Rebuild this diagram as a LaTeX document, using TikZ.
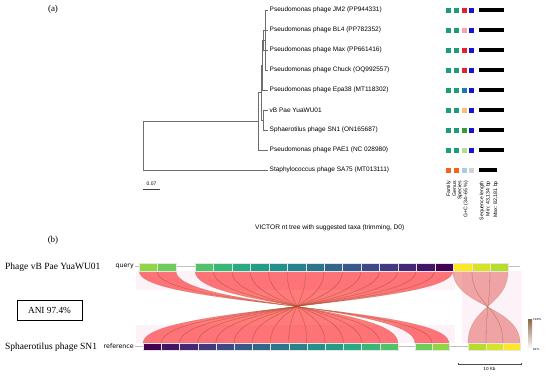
\documentclass[tikz,border=0pt]{standalone}
\usepackage{fontspec}
\setmainfont{Liberation Serif}
\setsansfont{Liberation Sans}
\newfontfamily\dvsans{DejaVu Sans}
\usepackage{xcolor}
\usepackage{tikz}
\usetikzlibrary{arrows.meta,calc}

%% viridis steps along the reference genome
\definecolor{vir0}{HTML}{440154}
\definecolor{vir1}{HTML}{461466}
\definecolor{vir2}{HTML}{472777}
\definecolor{vir3}{HTML}{433981}
\definecolor{vir4}{HTML}{3E4A88}
\definecolor{vir5}{HTML}{38598C}
\definecolor{vir6}{HTML}{31678D}
\definecolor{vir7}{HTML}{2B758E}
\definecolor{vir8}{HTML}{26838D}
\definecolor{vir9}{HTML}{21918C}
\definecolor{vir10}{HTML}{229E88}
\definecolor{vir11}{HTML}{26AB82}
\definecolor{vir12}{HTML}{39B777}
\definecolor{vir13}{HTML}{50C369}
\definecolor{vir14}{HTML}{6ECD58}
\definecolor{vir15}{HTML}{90D643}
\definecolor{vir16}{HTML}{B6DD2B}
\definecolor{vir17}{HTML}{D9E326}
\definecolor{vir18}{HTML}{FDE725}

%% taxa colours
\definecolor{famteal}{HTML}{1B9E77}
\definecolor{famorange}{HTML}{F0641E}
\definecolor{gcblue}{HTML}{1414D2}
\definecolor{gcgray}{HTML}{D2D2D2}
\definecolor{spred}{HTML}{E8202A}
\definecolor{sppink}{HTML}{F7A3AB}
\definecolor{spsteel}{HTML}{1F78B4}
\definecolor{sporange}{HTML}{FDBF6F}
\definecolor{spgreen}{HTML}{33A02C}
\definecolor{splgreen}{HTML}{B2DF8A}
\definecolor{splblue}{HTML}{A6CEE3}
\definecolor{treegray}{HTML}{6E6E6E}
\definecolor{identbrown}{HTML}{8C6A48}

\tikzset{
  branch/.style={draw=treegray, line width=0.6pt},
  tiplabel/.style={anchor=west, inner sep=1.5pt, font=\sffamily\fontsize{6.5}{7}\selectfont},
  colhead/.style={anchor=east, rotate=90, inner sep=0pt, font=\sffamily\fontsize{5.2}{6}\selectfont},
  panel/.style={font=\fontsize{9}{10}\selectfont},
  genome/.style={anchor=west, inner sep=0pt, font=\fontsize{9.5}{11}\selectfont},
  tag/.style={anchor=east, inner sep=1pt, font=\dvsans\fontsize{6.3}{7}\selectfont},
  ribbon/.style={fill=red, fill opacity=0.52, draw=brown!70!black, draw opacity=0.4, line width=0.3pt},
  ribbonB/.style={fill={rgb,255:red,225;green,85;blue,80}, fill opacity=0.5, draw=brown!70!black, draw opacity=0.35, line width=0.3pt},
  haze/.style={fill=magenta!5},
  seg/.style={draw=white!80!gray, line width=0.1pt},
}

\begin{document}
\begin{tikzpicture}[x=1pt, y=-1pt]
\useasboundingbox (0,0) rectangle (550,376);

%% ---------------- (a) tree ----------------
\node[panel] (lblA) at (53,9) {(a)};

\foreach \r/\y/\txt in {1/10/{Pseudomonas phage JM2 (PP944331)},
                        2/30/{Pseudomonas phage BL4 (PP782352)},
                        3/50/{Pseudomonas phage Max (PP661416)},
                        4/70/{Pseudomonas phage Chuck (OQ992557)},
                        5/90/{Pseudomonas phage Epa38 (MT118302)},
                        6/110/{vB Pae YuaWU01},
                        7/130/{Sphaerotilus phage SN1 (ON165687)},
                        8/150/{Pseudomonas phage PAE1 (NC 028980)},
                        9/170/{Staphylococcus phage SA75 (MT013111)}}
  \node[tiplabel] (tip\r) at (268,\y) {\txt};

%% internal nodes (x = depth)
\coordinate (n6) at (265.0, 40);
\coordinate (n5) at (263.3, 40);
\coordinate (n4) at (262.5, 65);
\coordinate (n3) at (263.3, 120);
\coordinate (n2) at (261.7, 92.5);
\coordinate (n1) at (258.3, 121.25);
\coordinate (root) at (143, 145.6);

\draw[branch] (root) |- (n1);   \draw[branch] (root) |- (tip9.west);
\draw[branch] (n1) |- (n2);     \draw[branch] (n1) |- (tip8.west);
\draw[branch] (n2) |- (n4);     \draw[branch] (n2) |- (n3);
\draw[branch] (n3) |- (tip6.west); \draw[branch] (n3) |- (tip7.west);
\draw[branch] (n4) |- (n5);     \draw[branch] (n4) |- (tip5.west);
\draw[branch] (n5) -- (n6);
\draw[branch] (n5) |- (tip2.west); \draw[branch] (n5) |- (tip3.west);
\draw[branch] (n6) |- (tip1.west); \draw[branch] (n6) |- (tip4.west);

%% tree scale
\coordinate (sc0) at (143,189);
\coordinate (sc1) at (160,189);
\draw[black!75, line width=1pt] (sc0) -- (sc1);
\node[font=\sffamily\fontsize{5}{6}\selectfont, inner sep=0pt] (treeScale) at (151.5,183.5) {0.07};

%% taxa boxes: family, genus, species, G+C, length
\foreach \y/\fa/\sp/\gc/\len in {10/famteal/spred/gcblue/503.5,
                                 30/famteal/sppink/gcblue/503.5,
                                 50/famteal/spred/gcblue/503.5,
                                 70/famteal/spred/gcblue/503.5,
                                 90/famteal/spsteel/gcblue/503.5,
                                 110/famteal/sporange/gcblue/503.5,
                                 130/famteal/spgreen/gcblue/503.5,
                                 150/famteal/splgreen/gcblue/503.5,
                                 170/famorange/splblue/gcgray/496.5}{
  \fill[\fa] (446,\y-2.5) rectangle +(5,5);
  \fill[\fa] (453.7,\y-2.5) rectangle +(5,5);
  \fill[\sp] (461.5,\y-2.5) rectangle +(5,5);
  \fill[\gc] (469,\y-2.5) rectangle +(5,5);
  \fill[black] (479,\y-2.4) rectangle (\len,\y+2.4);
}

\foreach \c/\x/\txt in {1/448.7/Family, 2/454.3/Genus, 3/460/Species,
                        4/466/{G+C (34–65 \%)}, 5/482/{Sequence length},
                        6/488.3/{Min: 43,134 bp}, 7/495.7/{Max: 82,181 bp}}
  \node[colhead] (col\c) at (\x,181) {\txt};

\node[anchor=west, inner sep=0pt, font=\sffamily\fontsize{6.6}{7}\selectfont] (capVictor) at (255,228)
  {VICTOR nt tree with suggested taxa (trimming, D0)};

%% ---------------- (b) synteny ----------------
\def\qy{271}   % query bar bottom
\def\ry{343}   % reference bar top
\def\my{306}   % ribbon waist

\node[panel] (lblB) at (53,240) {(b)};
\node[genome] (qName) at (5,267) {Phage vB Pae YuaWU01};
\node[genome] (rName) at (5,347) {Sphaerotilus phage SN1};
\node[tag] (qTag) at (135,266) {query};
\node[tag] (rTag) at (135,346.5) {reference};
\node[draw, line width=0.8pt, minimum width=65pt, minimum height=20pt, inner sep=0pt,
      font=\fontsize{9.3}{11}\selectfont] (aniBox) at (49.5,310) {ANI 97.4\%};

%% faint background
\fill[haze] (136,\qy) rectangle (455,290);
\fill[haze] (136,325) rectangle (455,\ry);
\fill[haze] (462,\qy) rectangle (522,\ry);

%% genome axes
\draw[gray!50, line width=0.4pt] (qTag.east) -- (520,266);
\draw[gray!50, line width=0.4pt] (rTag.east) -- (520,346.5);

%% ribbons, big inverted block
\foreach \i in {0,...,13}{
  \pgfmathsetmacro\qL{195+(13-\i)*18.43}
  \pgfmathsetmacro\qR{195+(14-\i)*18.43}
  \pgfmathsetmacro\rL{143+\i*18.21}
  \pgfmathsetmacro\rR{143+(\i+1)*18.21}
  \path[ribbon] (\qL,\qy) .. controls (\qL,\my) and (\rR,\my) .. (\rR,\ry)
     -- (\rL,\ry) .. controls (\rL,\my) and (\qR,\my) .. (\qR,\qy) -- cycle;
}
%% ribbons, small blocks
\foreach \qL/\qR/\rL/\rR in {139/157/432/449, 157/176/415/432}
  \path[ribbon] (\qL,\qy) .. controls (\qL,\my) and (\rR,\my) .. (\rR,\ry)
     -- (\rL,\ry) .. controls (\rL,\my) and (\qR,\my) .. (\qR,\qy) -- cycle;
\foreach \qL/\qR/\rL/\rR in {453/472/503/520, 472/490/486/503, 490/508/468/486}
  \path[ribbonB] (\qL,\qy) .. controls (\qL,\my) and (\rR,\my) .. (\rR,\ry)
     -- (\rL,\ry) .. controls (\rL,\my) and (\qR,\my) .. (\qR,\qy) -- cycle;

%% query bar
\foreach \i in {0,...,13}
  \fill[vir\i, seg] ({195+(13-\i)*18.43},263) rectangle +(18.43,8);
\foreach \a/\b/\c in {139/157/vir15, 157/176/vir14, 453/472/vir18, 472/490/vir17, 490/508/vir16}
  \fill[\c, seg] (\a,263) rectangle (\b,271);

%% reference bar
\foreach \i in {0,...,13}
  \fill[vir\i, seg] ({143+\i*18.21},343) rectangle +(18.21,7.5);
\draw[white, line width=0.8pt] (361.4,343) -- (361.4,350.5);
\foreach \a/\b/\c in {415/432/vir14, 432/449/vir15, 468/486/vir16, 486/503/vir17, 503/520/vir18}
  \fill[\c, seg] (\a,343) rectangle (\b,350.5);

%% identity legend
\shade[top color=identbrown, bottom color=white] (528,319) rectangle (532,349);
\node[anchor=west, inner sep=0.5pt, font=\dvsans\fontsize{2.8}{3}\selectfont] (idHi) at (532.5,319) {100\%};
\node[anchor=west, inner sep=0.5pt, font=\dvsans\fontsize{2.8}{3}\selectfont] (idLo) at (532.5,349) {82\%};

%% length scale
\coordinate (kb0) at (458,364);
\coordinate (kb1) at (521,364);
\draw[black!70, line width=0.4pt, {Bar[width=2pt]}-{Bar[width=2pt]}] (kb0) -- (kb1);
\node[font=\dvsans\fontsize{4.2}{5}\selectfont, inner sep=0pt] (kbLabel) at (489.5,368.5) {10 Kb};

\end{tikzpicture}
\end{document}
